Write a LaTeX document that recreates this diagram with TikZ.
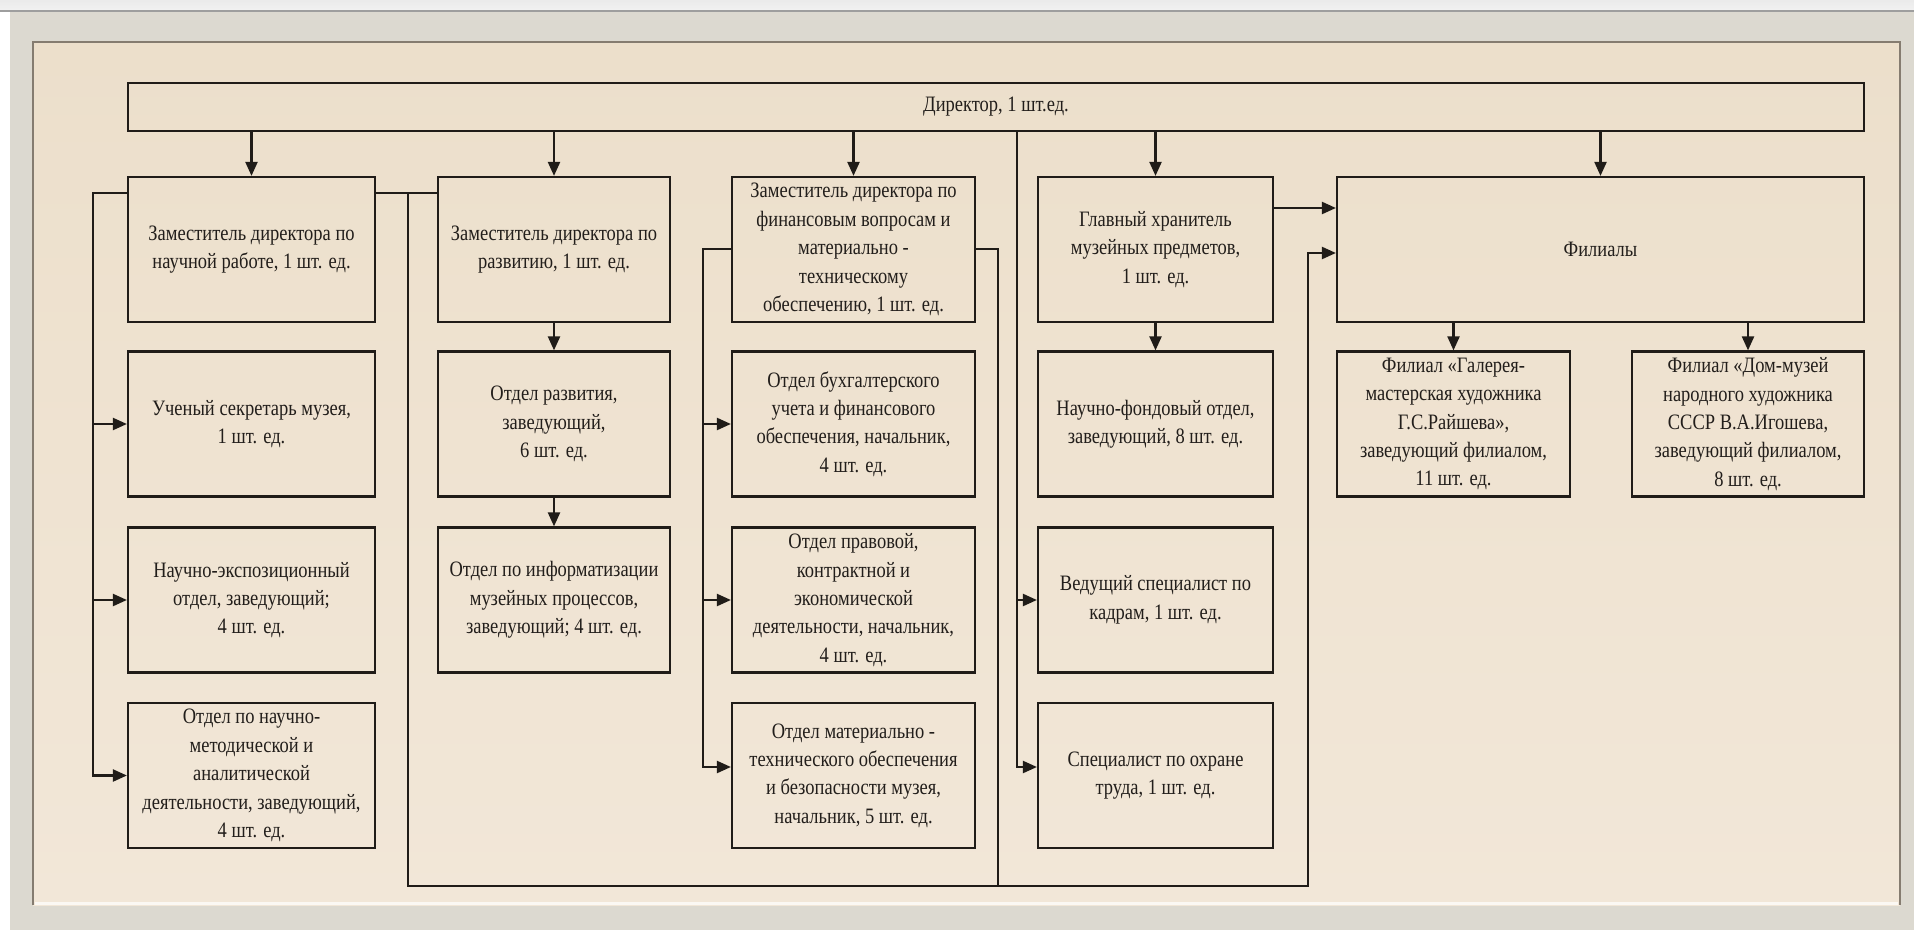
\documentclass[tikz,border=0pt]{standalone}
\usepackage{fontspec}
\setmainfont{Liberation Serif}[FakeStretch=0.84]
\usetikzlibrary{arrows.meta}
\definecolor{lineColor}{HTML}{201C18}
\definecolor{textColor}{HTML}{221E1B}
\definecolor{panelTop}{HTML}{ECDFCB}
\definecolor{panelBottom}{HTML}{F2E7D8}
\definecolor{frameColor}{HTML}{DCD9D0}
\definecolor{edgeDark}{HTML}{857C70}

\begin{document}
\begin{tikzpicture}[x=0.5pt, y=-0.5pt, font=\fontsize{11}{14.2}\selectfont]
	\tikzstyle{boxStyle}=[shape = rectangle, draw = lineColor, line width = 1.1pt, align = center, inner sep = 0.5pt, text = textColor, minimum height = 72.5pt]
	\tikzstyle{lineStyle}=[draw = lineColor, line width = 1.1pt]
	\tikzstyle{arrowStyle}=[lineStyle, -{Triangle[length = 7pt, width = 6pt]}]
	\useasboundingbox (0,0) rectangle (1914,930);
	\fill[white] (0,0) rectangle (1914,930);
	\shade[top color = black!8, bottom color = black!5] (0,0) rectangle (1914,11);
	\fill[frameColor] (10,11) rectangle (1914,930);
	\draw[black!38, line width = 0.8pt] (0,11) -- (1914,11);
	\shade[top color = panelTop, bottom color = panelBottom] (33,42) rectangle (1900,905);
	\draw[edgeDark, line width = 1.2pt] (33,905) -- (33,42) -- (1900,42) -- (1900,905);
	\draw[white!70!panelBottom, line width = 1.5pt] (35,903) -- (1898,903);
	\node[boxStyle, minimum width = 868pt, minimum height = 24pt] (dir) at (996,107) {Директор, 1 шт.ед.};
	\node[boxStyle, minimum width = 123.5pt] (a1) at (251.5,249.5) {Заместитель директора по\\научной работе, 1 шт. ед.};
	\node[boxStyle, minimum width = 123.5pt] (a2) at (251.5,424) {Ученый секретарь музея,\\1 шт. ед.};
	\node[boxStyle, minimum width = 123.5pt] (a3) at (251.5,600) {Научно-экспозиционный\\отдел, заведующий;\\4 шт. ед.};
	\node[boxStyle, minimum width = 123.5pt] (a4) at (251.5,775.5) {Отдел по научно-\\методической и\\аналитической\\деятельности, заведующий,\\4 шт. ед.};
	\node[boxStyle, minimum width = 116pt] (b1) at (554,249.5) {Заместитель директора по\\развитию, 1 шт. ед.};
	\node[boxStyle, minimum width = 116pt] (b2) at (554,424) {Отдел развития,\\заведующий,\\6 шт. ед.};
	\node[boxStyle, minimum width = 116pt] (b3) at (554,600) {Отдел по информатизации\\музейных процессов,\\заведующий; 4 шт. ед.};
	\node[boxStyle, minimum width = 121.5pt] (c1) at (853.5,249.5) {Заместитель директора по\\финансовым вопросам и\\материально -\\техническому\\обеспечению, 1 шт. ед.};
	\node[boxStyle, minimum width = 121.5pt] (c2) at (853.5,424) {Отдел бухгалтерского\\учета и финансового\\обеспечения, начальник,\\4 шт. ед.};
	\node[boxStyle, minimum width = 121.5pt] (c3) at (853.5,600) {Отдел правовой,\\контрактной и\\экономической\\деятельности, начальник,\\4 шт. ед.};
	\node[boxStyle, minimum width = 121.5pt] (c4) at (853.5,775.5) {Отдел материально -\\технического обеспечения\\и безопасности музея,\\начальник, 5 шт. ед.};
	\node[boxStyle, minimum width = 117.5pt] (e1) at (1155.5,249.5) {Главный хранитель\\музейных предметов,\\1 шт. ед.};
	\node[boxStyle, minimum width = 117.5pt] (e2) at (1155.5,424) {Научно-фондовый отдел,\\заведующий, 8 шт. ед.};
	\node[boxStyle, minimum width = 117.5pt] (e3) at (1155.5,600) {Ведущий специалист по\\кадрам, 1 шт. ед.};
	\node[boxStyle, minimum width = 117.5pt] (e4) at (1155.5,775.5) {Специалист по охране\\труда, 1 шт. ед.};
	\node[boxStyle, minimum width = 263.5pt] (fil) at (1600.5,249.5) {Филиалы};
	\node[boxStyle, minimum width = 116.5pt] (fil1) at (1453.5,424) {Филиал «Галерея-\\мастерская художника\\Г.С.Райшева»,\\заведующий филиалом,\\11 шт. ед.};
	\node[boxStyle, minimum width = 116pt] (fil2) at (1748,424) {Филиал «Дом-музей\\народного художника\\СССР В.А.Игошева,\\заведующий филиалом,\\8 шт. ед.};
	\coordinate (p1) at (93,193);
	\coordinate (p2) at (408,193);
	\coordinate (p3) at (703,249);
	\coordinate (p4) at (998,249);
	\coordinate (p5) at (1017,767);
	\coordinate (p6) at (1308,886);
	\coordinate (p7) at (1308,253);
	\coordinate (p8) at (1300,208);
	\coordinate (p9) at (703,767);
	\draw[arrowStyle] (dir.south -| a1) -- (a1.north);
	\draw[arrowStyle] (dir.south -| b1) -- (b1.north);
	\draw[arrowStyle] (dir.south -| c1) -- (c1.north);
	\draw[arrowStyle] (dir.south -| e1) -- (e1.north);
	\draw[arrowStyle] (dir.south -| fil) -- (fil.north);
	\draw[arrowStyle] (a1.west |- p1) -- (p1) |- (a4.west);
	\draw[arrowStyle] (p1 |- a2.west) -- (a2.west);
	\draw[arrowStyle] (p1 |- a3.west) -- (a3.west);
	\draw[lineStyle] (a1.east |- p2) -- (b1.west |- p2);
	\draw[arrowStyle] (p2) |- (p6) -- (p7) -- (fil.west |- p7);
	\draw[arrowStyle] (b1.south) -- (b2.north);
	\draw[arrowStyle] (b2.south) -- (b3.north);
	\draw[arrowStyle] (c1.west |- p3) -- (p3) -- (p9) -- (c4.west |- p9);
	\draw[arrowStyle] (p3 |- c2.west) -- (c2.west);
	\draw[arrowStyle] (p3 |- c3.west) -- (c3.west);
	\draw[lineStyle] (c1.east |- p4) -- (p4) -- (p4 |- p6);
	\draw[arrowStyle] (dir.south -| p5) -- (p5) -- (e4.west |- p5);
	\draw[arrowStyle] (p5 |- e3.west) -- (e3.west);
	\draw[arrowStyle] (e1.south) -- (e2.north);
	\draw[arrowStyle] (e1.east |- p8) -- (fil.west |- p8);
	\draw[arrowStyle] (fil.south -| fil1) -- (fil1.north);
	\draw[arrowStyle] (fil.south -| fil2) -- (fil2.north);
\end{tikzpicture}
\end{document}
